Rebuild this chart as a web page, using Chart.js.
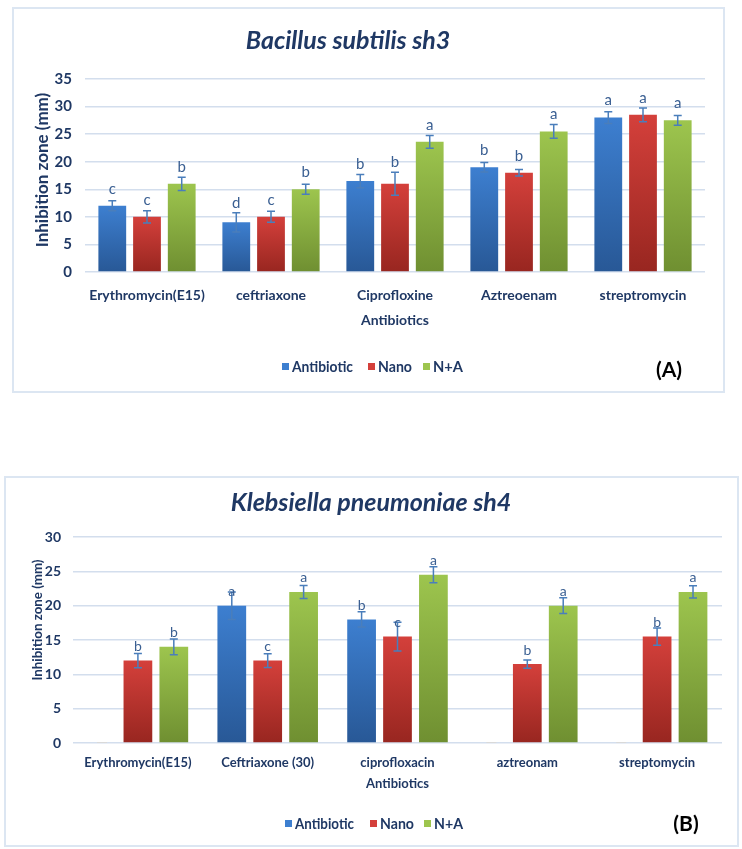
<!DOCTYPE html>
<html>
<head>
<meta charset="utf-8">
<script src="https://cdn.jsdelivr.net/npm/chart.js@4.4.1/dist/chart.umd.min.js"></script>
<style>
  body { margin: 0; background: #fff; width: 742px; height: 849px; position: relative; overflow: hidden; }
  .box { position: absolute; border: 2px solid #dce6f2; box-sizing: border-box; }
  canvas { position: absolute; left: 0; }
</style>
</head>
<body>
<div class="box" style="left:12px;top:7px;width:713px;height:386px"></div>
<div class="box" style="left:4px;top:476px;width:735px;height:371px"></div>
<canvas id="chartA" width="742" height="420" style="top:0"></canvas>
<canvas id="chartB" width="742" height="419" style="top:430px"></canvas>
<script>
// series names (legend)
var seriesNames = ['Antibiotic', 'Nano', 'N+A'];

// (A) Bacillus subtilis sh3
var drugsA = ['Erythromycin(E15)', 'ceftriaxone', 'Ciprofloxine', 'Aztreoenam', 'streptromycin'];
var antibioticA = [12, 9, 16.5, 19, 28];
var nanoA = [10, 10, 16, 18, 28.5];
var naA = [16, 15, 23.6, 25.5, 27.5];
var antibioticErrA = [0.9, 1.75, 1.2, 0.85, 1.05];
var nanoErrA = [1.1, 1.0, 2.1, 0.6, 1.25];
var naErrA = [1.2, 0.9, 1.15, 1.25, 0.9];
var antibioticLetA = ['c', 'd', 'b', 'b', 'a'];
var nanoLetA = ['c', 'c', 'b', 'b', 'a'];
var naLetA = ['b', 'b', 'a', 'a', 'a'];
var yMaxA = 35;

// (B) Klebsiella pneumoniae sh4
var drugsB = ['Erythromycin(E15)', 'Ceftriaxone (30)', 'ciprofloxacin', 'aztreonam', 'streptomycin'];
var antibioticB = [0, 20, 18, 0, 0];
var nanoB = [12, 12, 15.5, 11.5, 15.5];
var naB = [14, 22, 24.5, 20, 22];
var antibioticErrB = [0, 2, 1.1, 0, 0];
var nanoErrB = [1.05, 1, 2.1, 0.6, 1.25];
var naErrB = [1.15, 0.95, 1.15, 1.15, 0.9];
var antibioticLetB = ['', 'a', 'b', '', ''];
var nanoLetB = ['b', 'c', 'c', 'b', 'b'];
var naLetB = ['b', 'a', 'a', 'a', 'a'];
var yMaxB = 30;

var FONT = "Lato, 'Open Sans', sans-serif";
var NAVY = '#1f3864';
var GRID = '#d3deed';
var colors = [['#3d7fd0', '#285896'], ['#d4403b', '#982620'], ['#9dc54e', '#6f8f31']];

Chart.defaults.font.family = FONT;
Chart.defaults.color = NAVY;

// vertical gradient per bar, like the excel fill
function barFill(top, bottom) {
    return function (c) {
        var y = c.chart.scales.y;
        if (!y || c.raw == null) return top;
        var y0 = y.getPixelForValue(c.raw), y1 = y.getPixelForValue(0);
        if (!(y1 > y0)) return top;
        var g = c.chart.ctx.createLinearGradient(0, y0, 0, y1);
        g.addColorStop(0, top);
        g.addColorStop(1, bottom);
        return g;
    };
}

// error bars, letters, title, y title, legend, panel tag
var extras = {
    id: 'extras',
    afterDatasetsDraw: function (chart, args, o) {
        var ctx = chart.ctx, y = chart.scales.y;
        ctx.save();
        chart.data.datasets.forEach(function (ds, i) {
            chart.getDatasetMeta(i).data.forEach(function (bar, j) {
                var v = ds.data[j], e = o.errors[i][j];
                if (v === 0) {
                    ctx.strokeStyle = '#d9d9d9';
                    ctx.lineWidth = 1;
                    ctx.beginPath();
                    ctx.moveTo(bar.x - 5, bar.base - 0.5);
                    ctx.lineTo(bar.x + 5, bar.base - 0.5);
                    ctx.stroke();
                    return;
                }
                var top = y.getPixelForValue(v + e), bot = y.getPixelForValue(v - e);
                ctx.strokeStyle = '#4a7ebb';
                ctx.lineWidth = 1.5;
                ctx.beginPath();
                ctx.moveTo(bar.x, top); ctx.lineTo(bar.x, bot);
                ctx.moveTo(bar.x - 4, top); ctx.lineTo(bar.x + 4, top);
                ctx.moveTo(bar.x - 4, bot); ctx.lineTo(bar.x + 4, bot);
                ctx.stroke();
                var ly = bar.y - o.letterGap;
                if (o.errGap != null) ly = Math.min(ly, top - o.errGap);
                ctx.fillStyle = '#3a5f92';
                ctx.font = o.letterSize + 'px ' + FONT;
                ctx.textAlign = 'center';
                ctx.textBaseline = 'middle';
                ctx.fillText(o.letters[i][j], bar.x, ly);
            });
        });
        ctx.restore();
    },
    afterDraw: function (chart, args, o) {
        var ctx = chart.ctx;
        ctx.save();
        ctx.fillStyle = NAVY;
        ctx.textAlign = 'center';
        ctx.textBaseline = 'middle';
        // title
        ctx.font = 'italic bold ' + o.titleSize + 'px ' + FONT;
        ctx.fillText(o.title, o.titleX, o.titleY, o.titleW);
        // y axis title
        ctx.save();
        ctx.translate(o.yTitleX, o.yTitleY);
        ctx.rotate(-Math.PI / 2);
        ctx.font = 'bold ' + o.yTitleSize + 'px ' + FONT;
        ctx.fillText('Inhibition zone (mm)', 0, 0, o.yTitleW);
        ctx.restore();
        // legend
        ctx.font = 'bold 15px ' + FONT;
        ctx.textAlign = 'left';
        seriesNames.forEach(function (name, i) {
            ctx.fillStyle = colors[i][0];
            ctx.fillRect(o.legendX[i], o.legendY - 4, 7, 7);
            ctx.fillStyle = NAVY;
            ctx.fillText(name, o.legendX[i] + 10, o.legendY, o.legendW[i]);
        });
        // panel tag
        ctx.font = 'bold 21px ' + FONT;
        ctx.textAlign = 'center';
        ctx.fillStyle = '#000';
        ctx.fillText(o.panel, o.panelX, o.panelY);
        ctx.restore();
    }
};

function makeChart(id, s) {
    return new Chart(document.getElementById(id), {
        type: 'bar',
        data: {
            labels: s.labels,
            datasets: s.series.map(function (d, i) {
                return {
                    label: seriesNames[i],
                    data: d,
                    backgroundColor: barFill(colors[i][0], colors[i][1]),
                    borderWidth: 0,
                    categoryPercentage: s.cp,
                    barPercentage: 0.8
                };
            })
        },
        options: {
            responsive: false,
            animation: false,
            devicePixelRatio: 1,
            layout: { padding: s.padding },
            plugins: {
                legend: { display: false },
                title: { display: false },
                tooltip: { enabled: false },
                extras: s.extras
            },
            scales: {
                x: {
                    grid: { display: false },
                    border: { display: false },
                    ticks: { color: NAVY, font: { size: s.tickSize, weight: 'bold' }, padding: s.xPad, maxRotation: 0, autoSkip: false },
                    title: { display: true, text: 'Antibiotics', color: NAVY, font: { size: s.tickSize, weight: 'bold' }, padding: { top: 0, bottom: s.xTitlePad } },
                    afterFit: function (sc) { sc.height = s.xH; }
                },
                y: {
                    min: 0,
                    max: s.yMax,
                    ticks: { stepSize: 5, color: NAVY, font: { size: s.yTickSize, weight: 'bold' }, padding: s.yPad },
                    grid: { color: GRID, lineWidth: 1.5, drawTicks: false },
                    border: { display: false },
                    afterFit: function (sc) { sc.width = s.yW; }
                }
            }
        },
        plugins: [extras]
    });
}

makeChart('chartA', {
    labels: drugsA,
    series: [antibioticA, nanoA, naA],
    yMax: yMaxA,
    cp: 0.84,
    tickSize: 14, yTickSize: 15,
    xPad: 7, xH: 60, xTitlePad: 3,
    yPad: 13, yW: 60,
    padding: { left: 25, right: 37, top: 79, bottom: 88 },
    extras: {
        errors: [antibioticErrA, nanoErrA, naErrA],
        letters: [antibioticLetA, nanoLetA, naLetA],
        letterSize: 15, letterGap: 17, errGap: 10,
        title: 'Bacillus subtilis sh3', titleSize: 25, titleX: 348, titleY: 41, titleW: 205,
        yTitleX: 43, yTitleY: 170, yTitleSize: 17, yTitleW: 156,
        legendX: [282, 368, 423], legendW: [61, 34, 30], legendY: 367,
        panel: '(A)', panelX: 669, panelY: 370
    }
});

makeChart('chartB', {
    labels: drugsB,
    series: [antibioticB, nanoB, naB],
    yMax: yMaxB,
    cp: 0.83,
    tickSize: 13, yTickSize: 14,
    xPad: 4, xH: 52, xTitlePad: 3,
    yPad: 12, yW: 50,
    padding: { left: 23, right: 20, top: 107, bottom: 54 },
    extras: {
        errors: [antibioticErrB, nanoErrB, naErrB],
        letters: [antibioticLetB, nanoLetB, naLetB],
        letterSize: 14, letterGap: 14, errGap: null,
        title: 'Klebsiella pneumoniae sh4', titleSize: 25, titleX: 371, titleY: 73, titleW: 286,
        yTitleX: 37, yTitleY: 190, yTitleSize: 14, yTitleW: 121,
        legendX: [285, 370, 424], legendW: [59, 34, 29], legendY: 394,
        panel: '(B)', panelX: 686, panelY: 394
    }
});
</script>
</body>
</html>
